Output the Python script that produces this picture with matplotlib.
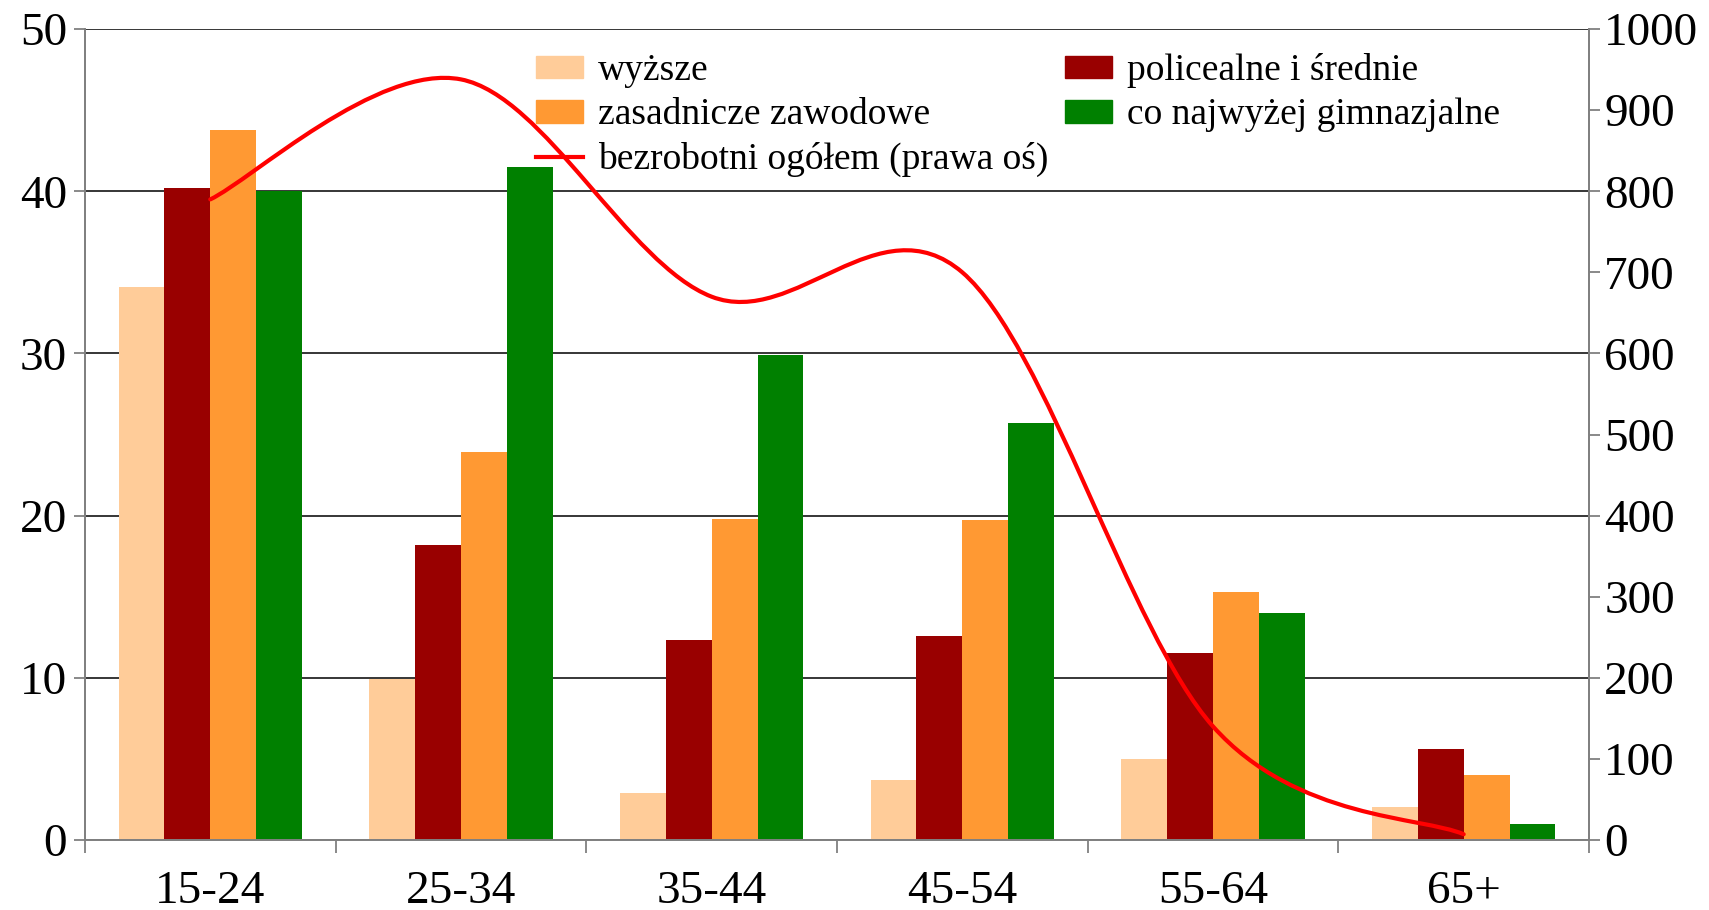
import numpy as np
import matplotlib
matplotlib.use("Agg")
import matplotlib.pyplot as plt
from matplotlib.path import Path
from matplotlib.patches import PathPatch, Patch
from matplotlib.lines import Line2D

plt.rcParams['font.family'] = ['Liberation Serif', 'DejaVu Serif']

# dane
grupy = ['15-24', '25-34', '35-44', '45-54', '55-64', '65+']
wyzsze = [34.1, 9.9, 2.9, 3.7, 5.0, 2.0]
policealne = [40.2, 18.2, 12.3, 12.6, 11.5, 5.6]
zasadnicze = [43.8, 23.9, 19.8, 19.7, 15.3, 4.0]
gimnazjalne = [40.0, 41.5, 29.9, 25.7, 14.0, 1.0]
bezrobotni = [790, 938, 670, 700, 140, 7]

serie = [wyzsze, policealne, zasadnicze, gimnazjalne]
kolory = ['#FFCC99', '#990000', '#FF9933', '#008000']
nazwy = ['wyższe', 'policealne i średnie', 'zasadnicze zawodowe',
         'co najwyżej gimnazjalne']

fig = plt.figure(figsize=(17.09, 9.10), dpi=100)
ax = fig.add_axes([0.0497, 0.077, 0.8801, 0.891])
ax2 = ax.twinx()

x = np.arange(len(grupy))
w = 0.183
for i, (s, c) in enumerate(zip(serie, kolory)):
    ax.bar(x + (i - 1.5) * w, s, width=w, color=c, zorder=2)

ax.set_xlim(-0.5, len(grupy) - 0.5)
ax.set_ylim(0, 50)
ax.set_yticks([0, 10, 20, 30, 40, 50])
ax2.set_ylim(0, 1000)
ax2.set_yticks(range(0, 1001, 100))

# siatka
ax.grid(axis='y', color='black', lw=1.1, zorder=1)
ax.set_axisbelow(True)

# osie
for a in (ax, ax2):
    a.spines['top'].set_visible(False)
    for k in ('left', 'right', 'bottom'):
        a.spines[k].set_color('#808080')
        a.spines[k].set_linewidth(1.3)

ax.set_xticks(x)
ax.set_xticklabels(grupy)
ax.set_xticks(np.arange(-0.5, len(grupy)), minor=True)
ax.tick_params(axis='x', which='major', length=0, pad=22, labelsize=34)
ax.tick_params(axis='x', which='minor', length=9, width=1.3, color='#808080')
ax.tick_params(axis='y', length=8, width=1.3, color='#808080', pad=5, labelsize=34)
ax2.tick_params(axis='y', length=8, width=1.3, color='#808080', pad=3, labelsize=34)

# linia wygładzona (jak w Excelu - krzywe Beziera)
pts = np.column_stack([x, bezrobotni]).astype(float)
n = len(pts)
verts = [pts[0]]
codes = [Path.MOVETO]
for i in range(n - 1):
    p_prev = pts[i - 1] if i > 0 else pts[i]
    p_next2 = pts[i + 2] if i + 2 < n else pts[i + 1]
    c1 = pts[i] + (pts[i + 1] - p_prev) / 6
    c2 = pts[i + 1] - (p_next2 - pts[i]) / 6
    verts += [c1, c2, pts[i + 1]]
    codes += [Path.CURVE4] * 3
ax2.add_patch(PathPatch(Path(verts, codes), fill=False, ec='#FF0000',
                        lw=3.0, capstyle='round', zorder=3))

# legenda
uchwyty = [Patch(color=kolory[0]), Patch(color=kolory[2]),
           Line2D([], [], color='#FF0000', lw=3.0),
           Patch(color=kolory[1]), Patch(color=kolory[3])]
etykiety = [nazwy[0], nazwy[2], 'bezrobotni ogółem (prawa oś)',
            nazwy[1], nazwy[3]]
ax2.legend(uchwyty, etykiety, ncol=2, loc='upper left',
           bbox_to_anchor=(0.305, 0.958), bbox_transform=fig.transFigure,
           frameon=False, fontsize=27, handlelength=1.25, handleheight=0.55,
           handletextpad=0.4, columnspacing=0.45, labelspacing=0.26,
           borderaxespad=0)

fig.savefig('out.png', dpi=100)
